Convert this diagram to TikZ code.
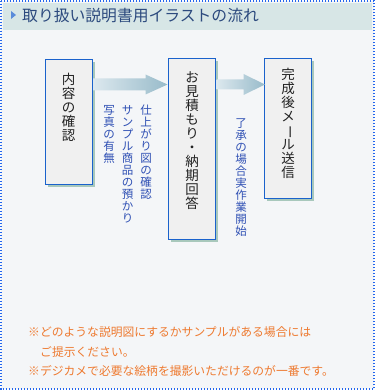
\documentclass[tikz,border=0pt]{standalone}
\usepackage{fontspec}
\usepackage{graphicx}
\newfontfamily\jp{Noto Sans CJK JP}
\usetikzlibrary{calc,shadows}
\definecolor{bodybg}{HTML}{F4F6F8}
\definecolor{headbg}{HTML}{D7E6E6}
\definecolor{bordc}{HTML}{2266EE}
\definecolor{titlec}{HTML}{2C4A7E}
\definecolor{tric}{HTML}{5A8CDA}
\definecolor{boxline}{HTML}{1A62CC}
\definecolor{boxfill}{HTML}{F0F0F0}
\definecolor{shadc}{HTML}{A8C8BC}
\definecolor{arrL}{HTML}{DCE8EE}
\definecolor{arrR}{HTML}{98BBCA}
\definecolor{bluec}{HTML}{2F50B4}
\definecolor{orangec}{HTML}{EE7A30}
\definecolor{boxtxt}{HTML}{222222}
\newcommand{\vbar}{\rotatebox[origin=c]{-90}{ー}}
\begin{document}
\begin{tikzpicture}[x=1pt,y=-1pt,
  stepbox/.style={draw=boxline, line width=1pt, fill=boxfill, minimum width=47pt, inner sep=0pt,
    drop shadow={shadow xshift=2.5pt, shadow yshift=-2.5pt, fill=shadc, opacity=1}},
  boxtext/.style={anchor=north, inner sep=0pt, align=center, text=boxtxt, font=\jp\fontsize{13.5}{14}\selectfont},
  bluelab/.style={anchor=north, inner sep=0pt, align=center, text=bluec, font=\jp\fontsize{11.5}{12}\selectfont},
  note/.style={anchor=west, inner sep=0pt, text=orangec, font=\jp\fontsize{11.8}{14}\selectfont},
  flowarrow/.style={left color=arrL, right color=arrR}
]
\useasboundingbox (0,0) rectangle (375,390);
\fill[bodybg] (1,1) rectangle (374,389);
\fill[headbg] (3,3) rectangle (372,30);
\draw[bordc, line width=1.2pt, dash pattern=on 1.2pt off 1.8pt] (1,1) rectangle (374,389);
\fill[tric] (11,11) -- (16,15) -- (11,19) -- cycle;
\node[anchor=west, inner sep=0pt, text=titlec, font=\jp\fontsize{15.8}{18}\selectfont] (title) at (22,15.5) {取り扱い説明書用イラストの流れ};

\node[stepbox, minimum height=124pt] (b1) at (68.5,122) {};
\node[stepbox, minimum height=180pt] (b2) at (192,149) {};
\node[stepbox, minimum height=139pt] (b3) at (288,128.5) {};

\node[boxtext] (t1) at ($(b1.north)+(0,13)$) {内\\容\\の\\確\\認};
\node[boxtext] (t2) at ($(b2.north)+(0,13)$) {お\\見\\積\\も\\り\\・\\納\\期\\回\\答};
\node[boxtext] (t3) at ($(b3.north)+(0,9)$) {完\\成\\後\\メ\\\vbar\\ル\\送\\信};

\shade[flowarrow] ($(b1.north east)+(0.5,19)$) -- ++(52.5,0) -- ++(0,-4) -- ++(22,10) -- ++(-22,10) -- ++(0,-4) -- ++(-52.5,0) -- cycle;
\shade[flowarrow] ($(b2.north east)+(0.5,21)$) -- ++(27,0) -- ++(0,-5.5) -- ++(21.5,10.5) -- ++(-21.5,10.5) -- ++(0,-5.5) -- ++(-27,0) -- cycle;

\node[bluelab] (l1) at (146,105) {仕\\上\\が\\り\\図\\の\\確\\認};
\node[bluelab] (l2) at (127.5,105) {サ\\ン\\プ\\ル\\商\\品\\の\\預\\か\\り};
\node[bluelab] (l3) at (109,105) {写\\真\\の\\有\\無};
\node[bluelab] (l4) at (241,118) {了\\承\\の\\場\\合\\実\\作\\業\\開\\始};

\node[note] (n1) at (28,332) {※どのような説明図にするかサンプルがある場合には};
\node[note] (n2) at (40,351.5) {ご提示ください。};
\node[note] (n3) at (28,371) {※デジカメで必要な絵柄を撮影いただけるのが一番です。};
\end{tikzpicture}
\end{document}
